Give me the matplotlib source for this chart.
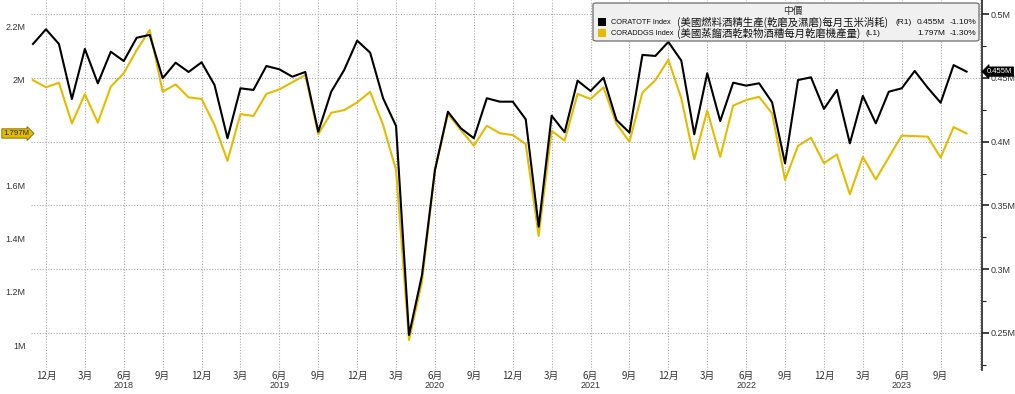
import matplotlib
matplotlib.use("Agg")
import matplotlib.pyplot as plt
import matplotlib.transforms as mtransforms
from matplotlib.patches import FancyBboxPatch, Rectangle
import numpy as np
import pandas as pd

plt.rcParams['font.family'] = ['Liberation Sans', 'Noto Sans CJK TC', 'DejaVu Sans']
CJK = ['Noto Sans CJK TC', 'DejaVu Sans']

# ---------------- data ----------------
months = pd.date_range("2017-11-01", "2023-11-01", freq="MS")

corn_use = [  # CORATOTF, right axis
    0.4767, 0.4882, 0.4767, 0.4335, 0.4728, 0.4458, 0.4706, 0.4633, 0.4816, 0.4838,
    0.4498, 0.4620, 0.4547, 0.4623, 0.4445, 0.4027, 0.4419, 0.4406, 0.4594, 0.4568,
    0.4510, 0.4547, 0.4078, 0.4392, 0.4563, 0.4793, 0.4699, 0.4341, 0.4123, 0.2483,
    0.2954, 0.3778, 0.4235, 0.4105, 0.4027, 0.4341, 0.4314, 0.4314, 0.4176, 0.3333,
    0.4204, 0.4074, 0.4479, 0.4398, 0.4502, 0.4170, 0.4071, 0.4681, 0.4673, 0.4783,
    0.4636, 0.4058, 0.4537, 0.4162, 0.4463, 0.4440, 0.4458, 0.4309, 0.3830, 0.4484,
    0.4505, 0.4257, 0.4406, 0.3987, 0.4359, 0.4144, 0.4392, 0.4419, 0.4555, 0.4424,
    0.4306, 0.4601, 0.4550,
]

ddgs = [  # CORADDGS, left axis
    1.998, 1.971, 1.988, 1.835, 1.945, 1.838, 1.973, 2.024, 2.111, 2.187,
    1.954, 1.982, 1.933, 1.927, 1.829, 1.694, 1.870, 1.863, 1.946, 1.963,
    1.990, 2.017, 1.794, 1.875, 1.885, 1.914, 1.954, 1.829, 1.659, 1.019,
    1.238, 1.659, 1.870, 1.810, 1.751, 1.826, 1.798, 1.791, 1.757, 1.411,
    1.807, 1.770, 1.946, 1.927, 1.971, 1.833, 1.766, 1.951, 1.998, 2.075,
    1.929, 1.700, 1.883, 1.709, 1.902, 1.923, 1.935, 1.873, 1.622, 1.750,
    1.781, 1.685, 1.718, 1.568, 1.709, 1.624, 1.707, 1.789, 1.787, 1.785,
    1.706, 1.821, 1.797,
]

left_ticks = [1.0, 1.2, 1.4, 1.6, 2.0, 2.2]
left_labels = ["1M", "1.2M", "1.4M", "1.6M", "2M", "2.2M"]
right_ticks = [0.25, 0.30, 0.35, 0.40, 0.45, 0.50]
right_labels = ["0.25M", "0.3M", "0.35M", "0.4M", "0.45M", "0.5M"]

legend_title = "中價"
series_codes = ["CORATOTF Index", "CORADDGS Index"]
series_desc = ["(美國燃料酒精生產(乾磨及濕磨)每月玉米消耗)", "(美國蒸餾酒乾穀物酒糟每月乾磨機產量)"]
series_axis = ["(R1)", "(L1)"]
series_last = ["0.455M", "1.797M"]
series_chg = ["-1.10%", "-1.30%"]

YELLOW = "#e3bc00"
BLACK = "#000000"
GRID = "#a8a8a8"
TXT = "#333333"

# ---------------- figure ----------------
W, H = 1015, 394
fig = plt.figure(figsize=(W / 100, H / 100), dpi=100)
fig.patch.set_facecolor("white")

ax_l, ax_r, ax_t, ax_b = 31, 982, 0, 370
ax = fig.add_axes([ax_l / W, (H - ax_b) / H, (ax_r - ax_l) / W, (ax_b - ax_t) / H])
ax2 = ax.twinx()

idx = np.arange(len(months))
ax.plot(idx, ddgs, color=YELLOW, lw=1.5, zorder=3)
ax2.plot(idx, corn_use, color=BLACK, lw=1.5, zorder=4)

ax.set_xlim(-0.154, 73.19)
ax.set_ylim(0.906, 2.2998)
ax2.set_ylim(0.2208, 0.5112)

# x ticks: quarterly months (12,3,6,9)
tick_idx = [i for i, m in enumerate(months) if m.month in (12, 3, 6, 9)]
grid_idx = tick_idx + [tick_idx[-1] + 3]
for gi in grid_idx:
    ax.axvline(gi, color=GRID, lw=0.8, ls=(0, (1, 1.5)), zorder=1)
ax.set_xticks(tick_idx)
ax.set_xticklabels([f"{months[i].month}月" for i in tick_idx], fontsize=7, color=TXT,
                   family=CJK)
ax.tick_params(axis="x", length=0, pad=0.5)

# year labels under June
trans = mtransforms.blended_transform_factory(ax.transData, ax.transAxes)
for i, m in enumerate(months):
    if m.month == 6:
        ax.text(i, -0.043, str(m.year), transform=trans, ha="center", va="center",
                fontsize=6.5, color=TXT)

# horizontal grid from right axis
for v in right_ticks:
    ax2.axhline(v, color=GRID, lw=0.8, ls=(0, (1, 1.5)), zorder=1)

# left axis
ax.set_yticks(left_ticks)
ax.set_yticklabels(left_labels, fontsize=6.5, color=TXT)
ax.tick_params(axis="y", length=0, pad=4)

# right axis
ax2.set_yticks(right_ticks)
ax2.set_yticklabels(right_labels, fontsize=6.5, color=TXT)
ax2.set_yticks(np.arange(0.225, 0.51, 0.025), minor=True)
ax2.tick_params(axis="y", which="major", length=5, width=1.2, color="#222222", pad=1.5, direction="out")
ax2.tick_params(axis="y", which="minor", length=3, width=0.8, color="#222222", direction="out")

for a in (ax, ax2):
    for s in ("top", "bottom", "left"):
        a.spines[s].set_visible(False)
ax.spines["right"].set_visible(False)
ax2.spines["right"].set_visible(True)
ax2.spines["right"].set_color("#222222")
ax2.spines["right"].set_linewidth(1.2)

# last value tags
ltrans = mtransforms.blended_transform_factory(fig.transFigure, ax.transData)
ax.text(3 / W, ddgs[-1], series_last[1], transform=ltrans, ha="left", va="center",
        fontsize=5.6, color="#222222", clip_on=False, zorder=10,
        bbox=dict(boxstyle="rarrow,pad=0.15", fc=YELLOW, ec="#7a6500", lw=0.6))
rtrans = mtransforms.blended_transform_factory(fig.transFigure, ax2.transData)
ax2.text(987 / W, corn_use[-1], series_last[0], transform=rtrans, ha="left", va="center",
         fontsize=5.5, color="white", clip_on=False, zorder=10,
         bbox=dict(boxstyle="larrow,pad=0.15", fc="black", ec="black", lw=0.6))

# legend box (figure pixel coords)
def fx(x):
    return x / W
def fy(y):
    return 1 - y / H

box = FancyBboxPatch((fx(593), fy(41)), fx(979) - fx(593), fy(3) - fy(41),
                     boxstyle="round,pad=0,rounding_size=0.004",
                     transform=fig.transFigure, fc="#f0f0f0", ec="#7a7a7a", lw=1.0, zorder=20)
fig.add_artist(box)
fig.text(fx(793), fy(11), legend_title, ha="center", va="center", fontsize=7, color=TXT,
         family=CJK, zorder=21)

row_y = [22, 33]
row_col = [BLACK, YELLOW]
axis_x = [896, 866]
for k in range(2):
    y = row_y[k]
    fig.add_artist(Rectangle((fx(598), fy(y + 4)), fx(606) - fx(598), fy(y - 4) - fy(y + 4),
                             transform=fig.transFigure, fc=row_col[k], ec="none", zorder=21))
    fig.text(fx(611), fy(y + 0.5), series_codes[k], ha="left", va="center", fontsize=5.3,
             color="#111111", zorder=21)
    fig.text(fx(677), fy(y + 0.5), series_desc[k], ha="left", va="center", fontsize=7.5,
             color="#111111", family=CJK, zorder=21)
    fig.text(fx(axis_x[k]), fy(y + 0.5), series_axis[k], ha="left", va="center", fontsize=6,
             color="#111111", zorder=21)
    fig.text(fx(945), fy(y + 0.5), series_last[k], ha="right", va="center", fontsize=6,
             color="#111111", zorder=21)
    fig.text(fx(976), fy(y + 0.5), series_chg[k], ha="right", va="center", fontsize=6,
             color="#111111", zorder=21)

fig.savefig("out.png", dpi=100)
